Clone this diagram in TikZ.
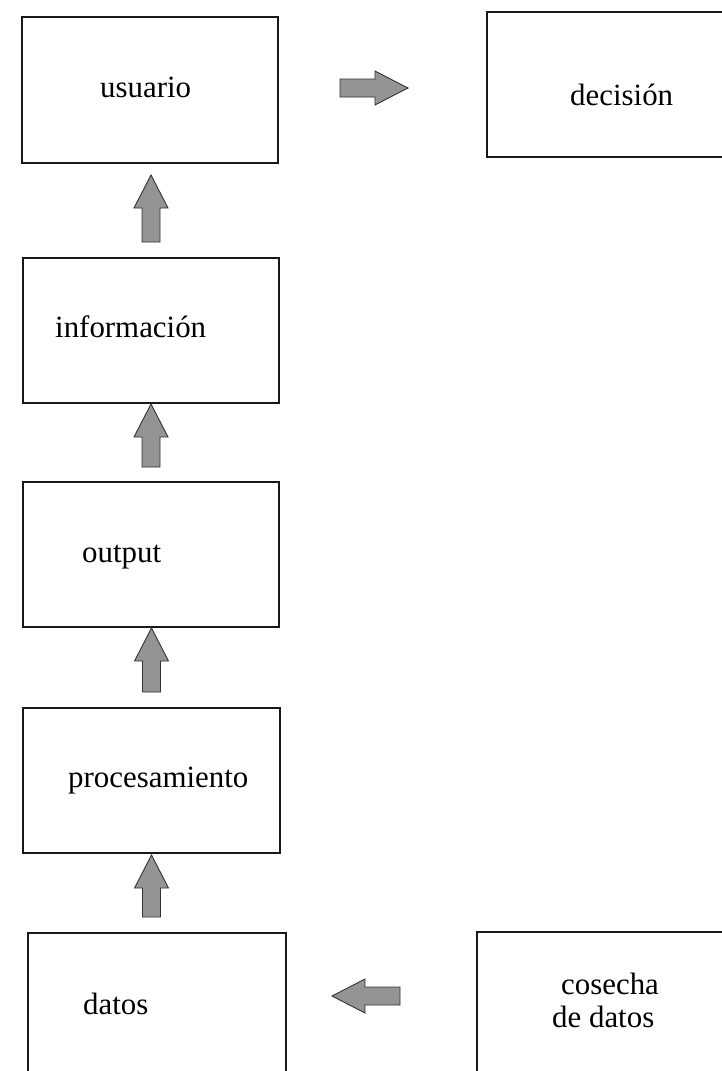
\documentclass[tikz,border=0pt]{standalone}
\usepackage{fontspec}
\setmainfont{Liberation Serif}
\usetikzlibrary{calc}
\tikzset{
  box/.style={draw=black!90, line width=1.5bp, outer sep=0pt, inner sep=0pt,
    minimum width=#1},
  box/.default=256bp,
  lbl/.style={inner sep=0pt, anchor=base west, font=\fontsize{31}{33}\selectfont},
  fatarrow/.style={draw=black!80, fill=black!42, line width=0.9bp, line join=miter,
    to path={
      ($(\tikztotarget)!33bp!(\tikztostart)$) coordinate (fa-b)
      ($(\tikztostart)!9bp!90:(\tikztotarget)$) -- ($(fa-b)!9bp!90:(\tikztotarget)$)
      -- ($(fa-b)!17bp!90:(\tikztotarget)$) -- (\tikztotarget)
      -- ($(fa-b)!17bp!-90:(\tikztotarget)$) -- ($(fa-b)!9bp!-90:(\tikztotarget)$)
      -- ($(\tikztostart)!9bp!-90:(\tikztotarget)$) -- cycle
    }}
}
\begin{document}
\begin{tikzpicture}[x=1bp, y=-1bp]
\useasboundingbox (0,0) rectangle (722,1071);
\clip (0,0) rectangle (722,1071);
\fill[white] (0,0) rectangle (722,1071);

% boxes
\node[box, minimum height=146bp] (usu) at (150,90) {};
\node[box=255bp, minimum height=145bp] (dec) at (614.5,84.5) {};
\node[box, minimum height=145bp] (info) at (151,330.5) {};
\node[box, minimum height=145bp] (out) at (151,554.5) {};
\node[box=257bp, minimum height=145bp] (proc) at (151.5,780.5) {};
\node[box=258bp, minimum height=160bp] (dat) at (157,1013) {};
\node[box=263bp, minimum height=160bp] (cos) at (608.5,1012) {};

% labels
\node[lbl] (t-usu) at (100,97) {usuario};
\node[lbl] (t-dec) at (570,105) {decisión};
\node[lbl] (t-info) at (55,337) {información};
\node[lbl] (t-out) at (82,562) {output};
\node[lbl] (t-proc) at (68,787) {procesamiento};
\node[lbl] (t-dat) at (83,1014) {datos};
\node[lbl] (t-cos1) at (561,994) {cosecha};
\node[lbl] (t-cos2) at (552,1027) {de datos};

% arrow end points (kept vertical / horizontal)
\coordinate (a1s) at ($(info.north)+(0,-16)$);
\coordinate (a1e) at ($(info.north |- usu.south)+(0,12)$);
\coordinate (a2s) at ($(out.north)+(0,-15)$);
\coordinate (a2e) at ($(out.north |- info.south)+(0,1)$);
\coordinate (a3s) at ($(proc.north)+(0,-16)$);
\coordinate (a3e) at ($(proc.north |- out.south)+(0,1)$);
\coordinate (a4s) at ($(proc.south |- dat.north)+(0,-16)$);
\coordinate (a4e) at ($(proc.south)+(0,2)$);
\coordinate (ars) at ($(usu.east)+(62,-2)$);
\coordinate (are) at ($(usu.east)+(130,-2)$);
\coordinate (als) at ($(cos.west)+(-77,-16)$);
\coordinate (ale) at ($(dat.east |- als)+(46,0)$);

\draw[fatarrow] (a1s) to (a1e);
\draw[fatarrow] (a2s) to (a2e);
\draw[fatarrow] (a3s) to (a3e);
\draw[fatarrow] (a4s) to (a4e);
\draw[fatarrow] (ars) to (are);
\draw[fatarrow] (als) to (ale);
\end{tikzpicture}
\end{document}
